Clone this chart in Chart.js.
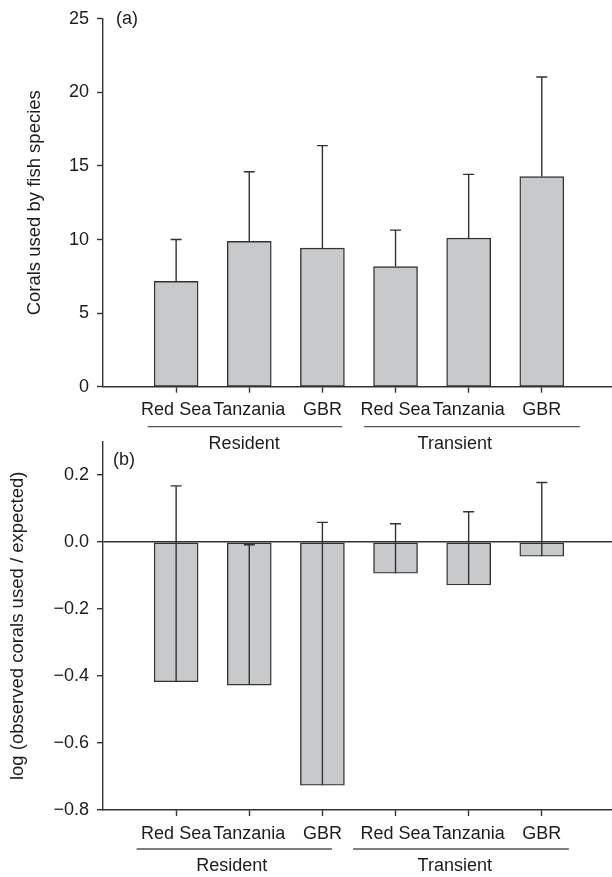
<!DOCTYPE html>
<html>
<head>
<meta charset="utf-8">
<script src="https://cdn.jsdelivr.net/npm/chart.js@4"></script>
<style>
    html, body { margin: 0; padding: 0; background: #fff; }
    body { width: 612px; height: 877px; position: relative; overflow: hidden; }
    canvas { position: absolute; left: 0; }
    #panel-a { top: 0; }
    #panel-b { top: 420px; }
</style>
</head>
<body>
<canvas id="panel-a" width="612" height="460"></canvas>
<canvas id="panel-b" width="612" height="457"></canvas>
<script>
const categories = ['Red Sea', 'Tanzania', 'GBR', 'Red Sea', 'Tanzania', 'GBR'];
const groups = ['Resident', 'Transient'];

// panel (a): corals used by fish species, mean + SE
const coralsUsed = [7.16, 9.87, 9.42, 8.16, 10.1, 14.28];
const coralsUsedErr = [2.84, 4.74, 6.96, 2.48, 4.33, 6.77];

// panel (b): log (observed / expected)
const logRatio = [-0.417, -0.427, -0.726, -0.093, -0.128, -0.042];
const logRatioErr = [0.585, 0.419, 0.785, 0.148, 0.219, 0.220];

const ticksA = [0, 5, 10, 15, 20, 25];
const ticksB = [-0.8, -0.6, -0.4, -0.2, 0.0, 0.2];

const FONT = '"Liberation Sans", Arial, Helvetica, sans-serif';
const TEXT = '#1e1c1d';
const LINE = '#333333';

Chart.defaults.font.family = FONT;
Chart.defaults.color = TEXT;

// error bars, group underlines and panel letter
const annotate = {
    id: 'annotate',
    afterDatasetsDraw(chart, args, opts) {
        const ctx = chart.ctx;
        const x = chart.scales.x;
        const y = chart.scales.y;
        const area = chart.chartArea;

        ctx.save();
        ctx.strokeStyle = LINE;
        ctx.lineWidth = 1.4;
        opts.values.forEach((v, i) => {
            const px = x.getPixelForValue(i + 1);
            const y0 = y.getPixelForValue(v);
            const y1 = y.getPixelForValue(v + opts.errors[i]);
            ctx.beginPath();
            ctx.moveTo(px, y0);
            ctx.lineTo(px, y1);
            ctx.moveTo(px - 5.5, y1);
            ctx.lineTo(px + 5.5, y1);
            ctx.stroke();
        });

        ctx.strokeStyle = '#555';
        ctx.lineWidth = 1.3;
        ctx.font = '18px ' + FONT;
        ctx.fillStyle = TEXT;
        ctx.textAlign = 'center';
        ctx.textBaseline = 'middle';
        groups.forEach((g, i) => {
            const span = opts.spans[i];
            const lineY = area.bottom + opts.lineOffset;
            ctx.beginPath();
            ctx.moveTo(x.getPixelForValue(span[0]), lineY);
            ctx.lineTo(x.getPixelForValue(span[1]), lineY);
            ctx.stroke();
            ctx.fillText(g, x.getPixelForValue(opts.labelAt[i]), area.bottom + opts.labelOffset);
        });

        ctx.textAlign = 'left';
        ctx.fillText(opts.letter, area.left + opts.letterX, area.top + opts.letterY);
        ctx.restore();
    }
};

function barDataset(values) {
    return {
        data: values.map((v, i) => ({ x: i + 1, y: v })),
        backgroundColor: '#c8c9cb',
        borderColor: LINE,
        borderWidth: 1.4,
        borderSkipped: false,
        barThickness: 44,
    };
}

function xScale(xHeight) {
    return {
        type: 'linear',
        min: 0,
        max: 6.96,
        offset: false,
        afterBuildTicks: (scale) => {
            scale.ticks = categories.map((c, i) => ({ value: i + 1 }));
        },
        afterFit: (scale) => { scale.height = xHeight; },
        ticks: {
            callback: (value) => categories[value - 1],
            font: { size: 18 },
            color: TEXT,
            padding: 7,
            maxRotation: 0,
            autoSkip: false,
        },
        grid: {
            offset: false,
            drawOnChartArea: false,
            tickLength: 6,
            tickColor: LINE,
            tickWidth: 1.4,
        },
        border: { color: LINE, width: 1.4 },
    };
}

// panel (a)
new Chart(document.getElementById('panel-a'), {
    type: 'bar',
    data: { datasets: [barDataset(coralsUsed)] },
    options: {
        responsive: false,
        animation: false,
        layout: { padding: { top: 17.7, left: 24, right: 0, bottom: 0 } },
        plugins: {
            legend: { display: false },
            tooltip: { enabled: false },
            annotate: {
                values: coralsUsed,
                errors: coralsUsedErr,
                spans: [[0.61, 3.27], [3.57, 6.52]],
                labelAt: [1.93, 4.81],
                lineOffset: 40,
                labelOffset: 57.5,
                letter: '(a)',
                letterX: 13,
                letterY: 0.5,
            },
        },
        scales: {
            x: xScale(73.3),
            y: {
                min: 0,
                max: 25,
                afterBuildTicks: (scale) => {
                    scale.ticks = ticksA.map(v => ({ value: v }));
                },
                afterFit: (scale) => { scale.width = 79; },
                ticks: { font: { size: 18 }, color: TEXT, padding: 8 },
                grid: { drawOnChartArea: false, tickLength: 6, tickColor: LINE, tickWidth: 1.4 },
                border: { color: LINE, width: 1.4 },
                title: {
                    display: true,
                    text: 'Corals used by fish species',
                    font: { size: 18.5 },
                    color: TEXT,
                    padding: 0,
                },
            },
        },
    },
    plugins: [annotate],
});

// panel (b)
new Chart(document.getElementById('panel-b'), {
    type: 'bar',
    data: { datasets: [barDataset(logRatio)] },
    options: {
        responsive: false,
        animation: false,
        layout: { padding: { top: 21.7, left: 7, right: 0, bottom: 0 } },
        plugins: {
            legend: { display: false },
            tooltip: { enabled: false },
            annotate: {
                values: logRatio,
                errors: logRatioErr,
                spans: [[0.46, 3.13], [3.42, 6.37]],
                labelAt: [1.76, 4.81],
                lineOffset: 39,
                labelOffset: 56,
                letter: '(b)',
                letterX: 10,
                letterY: 18,
            },
        },
        scales: {
            x: xScale(67),
            y: {
                min: -0.8,
                max: 0.3,
                afterBuildTicks: (scale) => {
                    scale.ticks = ticksB.map(v => ({ value: v }));
                },
                afterFit: (scale) => { scale.width = 96; },
                ticks: {
                    font: { size: 18 },
                    color: TEXT,
                    padding: 8,
                    callback: (v) => Math.abs(v) < 1e-9 ? '0.0' : v.toFixed(1).replace('-', '\u2212'),
                },
                grid: {
                    drawOnChartArea: true,
                    color: (c) => (c.tick && Math.abs(c.tick.value) < 1e-9) ? LINE : 'rgba(0,0,0,0)',
                    lineWidth: 1.4,
                    tickLength: 6,
                    tickColor: LINE,
                    tickWidth: 1.4,
                },
                border: { color: LINE, width: 1.4 },
                title: {
                    display: true,
                    text: 'log (observed corals used / expected)',
                    font: { size: 18.5 },
                    color: TEXT,
                    padding: 0,
                },
            },
        },
    },
    plugins: [annotate],
});
</script>
</body>
</html>
